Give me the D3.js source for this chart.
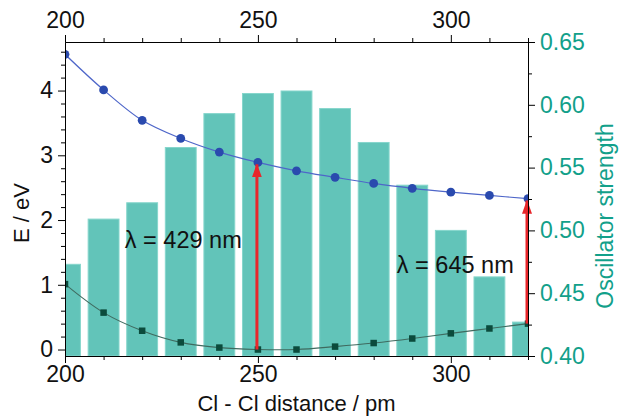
<!DOCTYPE html>
<html>
<head>
<meta charset="utf-8">
<script src="https://cdn.jsdelivr.net/npm/d3@7"></script>
<style>
  body { margin: 0; background: #fff; }
  svg text { font-family: "Liberation Sans", Arial, sans-serif; }
  .axis path, .axis line { stroke: #000; stroke-width: 1; }
</style>
</head>
<body>
<div id="chart"></div>
<script>
// Cl - Cl distance (pm) for every computed geometry
const distances = [200, 210, 220, 230, 240, 250, 260, 270, 280, 290, 300, 310, 320];
// oscillator strength (bars, right axis)
const oscStrength = [0.473, 0.509, 0.522, 0.566, 0.593, 0.609, 0.611, 0.597, 0.570, 0.536, 0.500, 0.463, 0.427];
// excited state energy (circles, left axis)
const upperEnergy = [4.56, 4.01, 3.54, 3.26, 3.05, 2.89, 2.76, 2.66, 2.565, 2.49, 2.43, 2.38, 2.33];
// ground state energy (squares, left axis)
const groundEnergy = [1.01, 0.57, 0.29, 0.11, 0.03, 0.0, 0.0, 0.045, 0.10, 0.17, 0.25, 0.325, 0.40];
// vertical transitions marked with arrows
const transitionAt = [250, 320];
const transitionLabels = ['\u03bb = 429 nm', '\u03bb = 645 nm'];

const xTicks = [200, 250, 300];
const yLeftTicks = [0, 1, 2, 3, 4];
const yRightTicks = [0.40, 0.45, 0.50, 0.55, 0.60, 0.65];

let margin = { top: 42, left: 65, right: 91, bottom: 60 },
  width = 619 - margin.left - margin.right,
  height = 416 - margin.top - margin.bottom;

const teal = '#12a08a';

let svg = d3.select('#chart')
  .append('svg')
  .attr('width', 619)
  .attr('height', 416);

let defs = svg.append('defs');
defs.append('clipPath')
  .attr('id', 'plotClip')
  .append('rect')
  .attr('width', width)
  .attr('height', height);
// arrow head pointing along the line direction
defs.append('marker')
  .attr('id', 'arrowHead')
  .attr('markerUnits', 'userSpaceOnUse')
  .attr('viewBox', '0 0 14 10')
  .attr('refX', 13).attr('refY', 5)
  .attr('markerWidth', 14).attr('markerHeight', 10)
  .attr('orient', 'auto')
  .append('path')
  .attr('d', 'M0,0 L14,5 L0,10 Z')
  .attr('fill', '#e8262b');

let g = svg.append('g')
  .attr('transform', 'translate(' + margin.left + ',' + margin.top + ')');

// scales
let xScale = d3.scaleLinear().domain([200, 320]).range([0, width]);
let yLeft = d3.scaleLinear().domain([-0.1, 4.75]).range([height, 0]);
let yRight = d3.scaleLinear().domain([0.40, 0.65]).range([height, 0]);

let plot = g.append('g').attr('clip-path', 'url(#plotClip)');

// bars for the oscillator strength, 8 pm wide
let barW = xScale(208) - xScale(200);
plot.selectAll('.bar')
  .data(distances)
  .enter()
  .append('rect')
  .attr('class', 'bar')
  .attr('x', d => xScale(d) - barW / 2)
  .attr('width', barW)
  .attr('y', (d, i) => yRight(oscStrength[i]))
  .attr('height', (d, i) => height - yRight(oscStrength[i]))
  .attr('fill', '#62c4b9')
  .attr('stroke', '#86d6cc')
  .attr('stroke-width', 1);

// excited state curve
let upper = distances.map((d, i) => [d, upperEnergy[i]]);
plot.append('path')
  .datum(upper)
  .attr('fill', 'none')
  .attr('stroke', '#4e66c9')
  .attr('stroke-width', 1.2)
  .attr('d', d3.line()
    .curve(d3.curveCatmullRom)
    .x(d => xScale(d[0]))
    .y(d => yLeft(d[1])));

// ground state curve
let ground = distances.map((d, i) => [d, groundEnergy[i]]);
plot.append('path')
  .datum(ground)
  .attr('fill', 'none')
  .attr('stroke', '#3f6a5f')
  .attr('stroke-width', 1.1)
  .attr('d', d3.line()
    .curve(d3.curveCatmullRom)
    .x(d => xScale(d[0]))
    .y(d => yLeft(d[1])));

plot.selectAll('.upPoint')
  .data(upper)
  .enter()
  .append('circle')
  .attr('class', 'upPoint')
  .attr('cx', d => xScale(d[0]))
  .attr('cy', d => yLeft(d[1]))
  .attr('r', 4.4)
  .attr('fill', '#2a4aae');

let sq = 6.5;
plot.selectAll('.groundPoint')
  .data(ground)
  .enter()
  .append('rect')
  .attr('class', 'groundPoint')
  .attr('x', d => xScale(d[0]) - sq / 2)
  .attr('y', d => yLeft(d[1]) - sq / 2)
  .attr('width', sq)
  .attr('height', sq)
  .attr('fill', '#0b4b3c');

// red arrows from ground to excited state
transitionAt.forEach(t => {
  let i = distances.indexOf(t);
  g.append('line')
    .attr('x1', xScale(t) - 1)
    .attr('x2', xScale(t) - 1)
    .attr('y1', yLeft(groundEnergy[i]))
    .attr('y2', yLeft(upperEnergy[i]) + 2)
    .attr('stroke', '#e8262b')
    .attr('stroke-width', 3)
    .attr('marker-end', 'url(#arrowHead)');
});

// wavelength labels
let labelPos = [[215.5, 1.57], [286, 1.18]];
transitionLabels.forEach((txt, i) => {
  g.append('text')
    .attr('x', xScale(labelPos[i][0]))
    .attr('y', yLeft(labelPos[i][1]))
    .attr('font-size', 23.5)
    .attr('fill', '#111')
    .text(txt);
});

// axes: major and minor ticks on all four sides
function styleAxis(sel, color) {
  sel.attr('class', 'axis');
  sel.selectAll('text')
    .attr('font-size', 23)
    .attr('fill', color || '#111');
}

let minorX = d3.range(200, 321, 10).filter(v => v % 50 !== 0);

g.append('g')
  .attr('transform', 'translate(0,' + height + ')')
  .call(d3.axisBottom(xScale).tickValues(xTicks).tickSize(7).tickPadding(3).tickSizeOuter(0))
  .call(styleAxis);
g.append('g')
  .attr('transform', 'translate(0,' + height + ')')
  .call(d3.axisBottom(xScale).tickValues(minorX).tickSize(4).tickFormat('').tickSizeOuter(0))
  .call(styleAxis);

g.append('g')
  .call(d3.axisTop(xScale).tickValues(xTicks).tickSize(7).tickPadding(7).tickSizeOuter(0))
  .call(styleAxis);
g.append('g')
  .call(d3.axisTop(xScale).tickValues(minorX).tickSize(4).tickFormat('').tickSizeOuter(0))
  .call(styleAxis);

let minorLeft = d3.range(0, 4.75, 0.2).filter(v => Math.abs(v - Math.round(v)) > 0.01);
g.append('g')
  .call(d3.axisLeft(yLeft).tickValues(yLeftTicks).tickSize(7).tickPadding(5)
    .tickFormat(d3.format('d')).tickSizeOuter(0))
  .call(styleAxis);
g.append('g')
  .call(d3.axisLeft(yLeft).tickValues(minorLeft).tickSize(4).tickFormat('').tickSizeOuter(0))
  .call(styleAxis);

let minorRight = [0.425, 0.475, 0.525, 0.575, 0.625];
g.append('g')
  .attr('transform', 'translate(' + width + ',0)')
  .call(d3.axisRight(yRight).tickValues(yRightTicks).tickSize(7).tickPadding(5)
    .tickFormat(d3.format('.2f')).tickSizeOuter(0))
  .call(s => styleAxis(s, teal));
g.append('g')
  .attr('transform', 'translate(' + width + ',0)')
  .call(d3.axisRight(yRight).tickValues(minorRight).tickSize(4).tickFormat('').tickSizeOuter(0))
  .call(styleAxis);

// axis titles
svg.append('text')
  .attr('x', margin.left + width / 2)
  .attr('y', 411)
  .attr('text-anchor', 'middle')
  .attr('font-size', 22)
  .attr('fill', '#111')
  .text('Cl - Cl distance / pm');

svg.append('text')
  .attr('transform', 'translate(29,' + 213 + ') rotate(-90)')
  .attr('text-anchor', 'middle')
  .attr('font-size', 22)
  .attr('fill', '#111')
  .text('E / eV');

svg.append('text')
  .attr('transform', 'translate(613,' + 216 + ') rotate(-90)')
  .attr('text-anchor', 'middle')
  .attr('font-size', 23)
  .attr('fill', teal)
  .text('Oscillator strength');
</script>
</body>
</html>
